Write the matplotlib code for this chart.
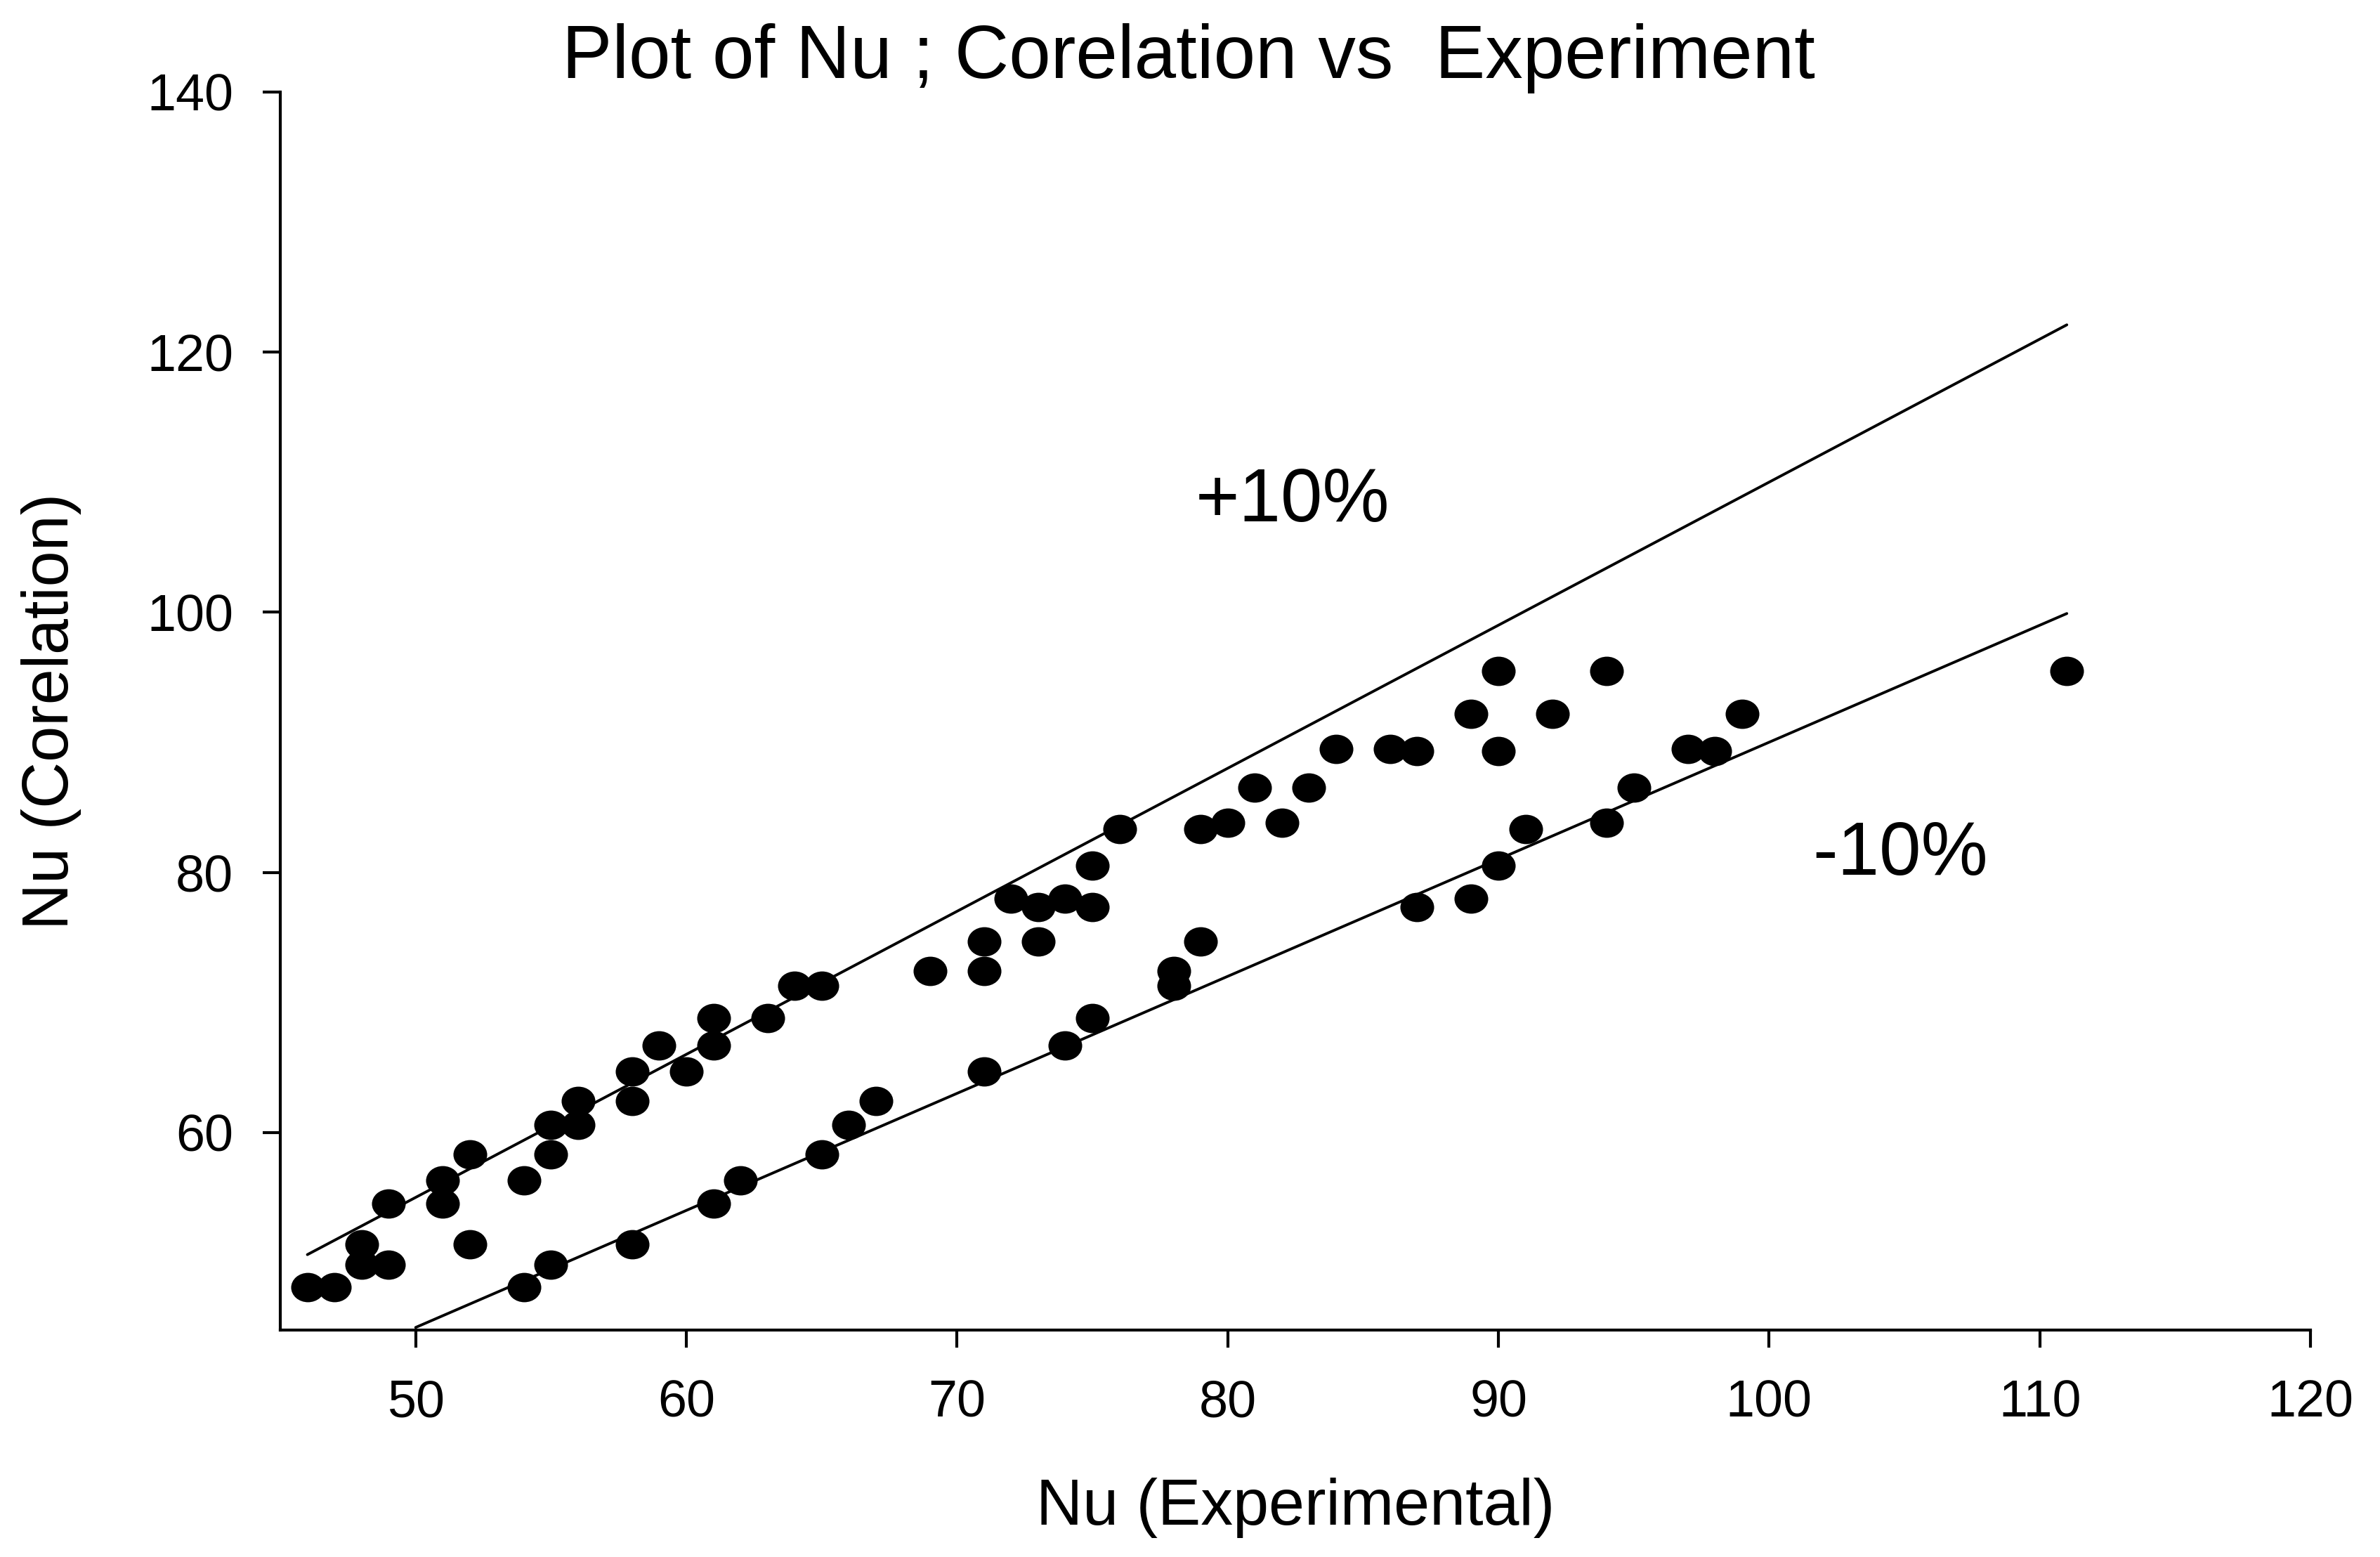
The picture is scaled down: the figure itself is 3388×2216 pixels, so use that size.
import numpy as np
import matplotlib
matplotlib.use("Agg")
import matplotlib.pyplot as plt
from matplotlib.path import Path
from matplotlib.transforms import Affine2D

# ---------------- data ----------------
nu_experimental = [46, 47, 48, 48, 49, 49, 51, 51, 52, 52, 54, 54, 55, 55, 55,
                   56, 56, 58, 58, 58, 59, 60, 61, 61, 61, 62, 63, 64, 65, 65,
                   66, 67, 69, 71, 71, 71, 72, 73, 73, 74, 74, 75, 75, 75, 76,
                   78, 78, 79, 79, 80, 81, 82, 83, 84, 86, 87, 87, 89, 89, 90,
                   90, 90, 91, 92, 94, 94, 95, 97, 98, 99, 111]
nu_correlation = [48.1, 48.1, 51.4, 49.8, 54.5, 49.8, 56.3, 54.5, 58.3, 51.4,
                  56.3, 48.1, 60.6, 58.3, 49.8, 62.4, 60.6, 64.7, 62.4, 51.4,
                  66.7, 64.7, 68.8, 66.7, 54.5, 56.3, 68.8, 71.3, 71.3, 58.3,
                  60.6, 62.4, 72.4, 72.4, 74.7, 64.7, 78.0, 77.3, 74.7, 78.0,
                  66.7, 80.5, 77.3, 68.8, 83.3, 72.4, 71.3, 83.3, 74.7, 83.8,
                  86.5, 83.8, 86.5, 89.5, 89.5, 89.3, 77.3, 92.2, 78.0, 95.5,
                  89.3, 80.5, 83.3, 92.2, 95.5, 83.8, 86.5, 89.5, 89.3, 92.2,
                  95.5]

band_labels = ["+10%", "-10%"]
band_factors = [1.10, 0.90]
band_x_start = [46, 50]
band_x_end = [111, 111]
band_label_pos = [(78.8, 107.0), (101.6, 79.8)]

x_ticks = [50, 60, 70, 80, 90, 100, 110, 120]
y_ticks = [60, 80, 100, 120, 140]

title = "Plot of Nu ; Corelation vs  Experiment"
xlabel = "Nu (Experimental)"
ylabel = "Nu (Corelation)"

# ---------------- style ----------------
plt.rcParams['font.family'] = ['Liberation Sans', 'DejaVu Sans']

W, H, DPI = 3388, 2216, 200
fig = plt.figure(figsize=(W / DPI, H / DPI), dpi=DPI)
ax = fig.add_axes([399 / W, 1 - 1893 / H, (3289 - 399) / W, (1893 - 131) / H])

# ellipse marker (wider than tall)
circ = Path.unit_circle()
ell = Affine2D().scale(1.0, 0.87).transform_path(circ)

# band lines
for f, xs, xe in zip(band_factors, band_x_start, band_x_end):
    xx = np.array([xs, xe], dtype=float)
    ax.plot(xx, f * xx, color='black', lw=1.4, solid_capstyle='round', zorder=2)

ax.plot(nu_experimental, nu_correlation, linestyle='none', marker=ell,
        markersize=17.3, markerfacecolor='black', markeredgecolor='black',
        markeredgewidth=0, zorder=3)

for lab, (tx, ty) in zip(band_labels, band_label_pos):
    ax.text(tx, ty, lab, fontsize=38.5, ha='left', va='baseline', color='black')

ax.set_xlim(45, 120)
ax.set_ylim(44.8, 140)
ax.set_xticks(x_ticks)
ax.set_yticks(y_ticks)

for s in ['top', 'right']:
    ax.spines[s].set_visible(False)
for s in ['left', 'bottom']:
    ax.spines[s].set_linewidth(1.5)
    ax.spines[s].set_capstyle('projecting')

ax.tick_params(axis='both', direction='out', length=9, width=1.5,
               labelsize=26.5, colors='black')
ax.tick_params(axis='x', pad=16)
ax.tick_params(axis='y', pad=15)

ax.set_xlabel(xlabel, fontsize=33)
ax.xaxis.label.set_va('baseline')
ax.xaxis.set_label_coords(0.5, (1893 - 2170) / (1893 - 131))

ax.set_ylabel(ylabel, fontsize=33)
ax.yaxis.label.set_va('baseline')
ax.yaxis.set_label_coords((97 - 399) / (3289 - 399), 0.5)

fig.text(0.4995, 1 - 111 / H, title, fontsize=38.5, ha='center', va='baseline')

fig.savefig("out.png", dpi=DPI)
